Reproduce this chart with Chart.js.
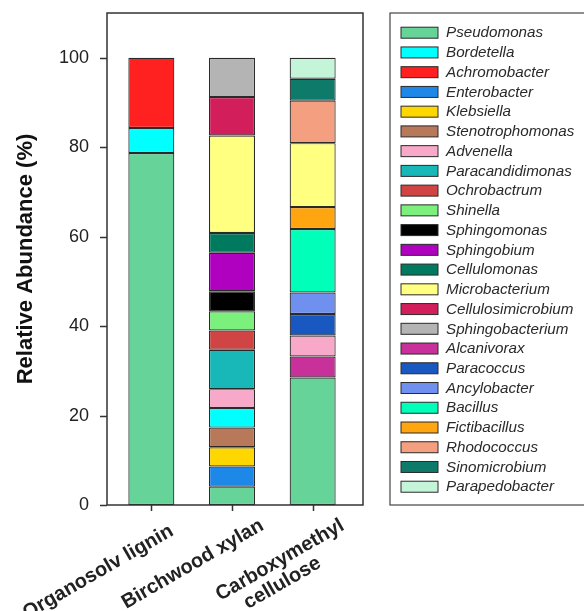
<!DOCTYPE html>
<html>
<head>
<meta charset="utf-8">
<script src="https://cdn.jsdelivr.net/npm/chart.js@4.4.1/dist/chart.umd.min.js"></script>
<style>
  html, body { margin: 0; padding: 0; background: #fff; }
  canvas { display: block; }
</style>
</head>
<body>
<canvas id="chart" width="584" height="611"></canvas>
<script>
// substrates on the x axis (trailing spaces only nudge the rotated text)
const categories = ['Organosolv lignin  ', 'Birchwood xylan', ['Carboxymethyl', 'cellulose       ']];

// genera, in legend order, with their fill colours
const genera = [
  'Pseudomonas', 'Bordetella', 'Achromobacter', 'Enterobacter', 'Klebsiella',
  'Stenotrophomonas', 'Advenella', 'Paracandidimonas', 'Ochrobactrum', 'Shinella',
  'Sphingomonas', 'Sphingobium', 'Cellulomonas', 'Microbacterium', 'Cellulosimicrobium',
  'Sphingobacterium', 'Alcanivorax', 'Paracoccus', 'Ancylobacter', 'Bacillus',
  'Fictibacillus', 'Rhodococcus', 'Sinomicrobium', 'Parapedobacter'
];
const genusColors = [
  '#66d399', '#00ffff', '#ff2020', '#1e88e8', '#ffd700',
  '#b8785a', '#f8a8c8', '#18b8b8', '#d04444', '#7cf07c',
  '#000000', '#b000c0', '#007a5e', '#ffff80', '#d21e5a',
  '#b4b4b4', '#c8309a', '#1858c0', '#7090f0', '#00ffb8',
  '#ffa510', '#f4a080', '#0e7a6a', '#c4f5d8'
];

// relative abundance (%) per substrate, listed bottom -> top of the bar
const ligninTaxa = ['Pseudomonas', 'Bordetella', 'Achromobacter'];
const ligninValues = [78.7, 5.6, 15.7];

const xylanTaxa = ['Pseudomonas', 'Enterobacter', 'Klebsiella', 'Stenotrophomonas', 'Bordetella',
  'Advenella', 'Paracandidimonas', 'Ochrobactrum', 'Shinella', 'Sphingomonas',
  'Sphingobium', 'Cellulomonas', 'Microbacterium', 'Cellulosimicrobium', 'Sphingobacterium'];
const xylanValues = [4.1, 4.5, 4.3, 4.4, 4.4, 4.2, 8.8, 4.3, 4.3, 4.5, 8.6, 4.4, 21.8, 8.6, 8.8];

const cmcTaxa = ['Pseudomonas', 'Alcanivorax', 'Advenella', 'Paracoccus', 'Ancylobacter',
  'Bacillus', 'Fictibacillus', 'Microbacterium', 'Rhodococcus', 'Sinomicrobium', 'Parapedobacter'];
const cmcValues = [28.5, 4.7, 4.7, 4.8, 4.8, 14.2, 4.9, 14.3, 9.5, 4.9, 4.7];

const yTicks = [0, 20, 40, 60, 80, 100];

const FONT = 'Arial, "Liberation Sans", sans-serif';

// each bar has its own stacking order, so the segments are floating bars [from, to]
const bars = [[ligninTaxa, ligninValues], [xylanTaxa, xylanValues], [cmcTaxa, cmcValues]];

const datasets = genera.map((g, k) => ({
  label: g,
  backgroundColor: genusColors[k],
  borderColor: '#2a2a2a',
  borderWidth: 1.2,
  borderSkipped: false,
  grouped: false,
  barPercentage: 0.57,
  categoryPercentage: 1,
  data: bars.map(([taxa, vals]) => {
    const j = taxa.indexOf(g);
    if (j < 0) return null;
    const lo = vals.slice(0, j).reduce((a, b) => a + b, 0);
    return [lo, lo + vals[j]];
  })
}));

// axis frame and tick marks
const framePlugin = {
  id: 'frame',
  afterDraw(chart) {
    const {ctx, chartArea: a, scales} = chart;
    const left = a.left - 4, right = a.right + 10;
    ctx.save();
    ctx.strokeStyle = '#333';
    ctx.lineWidth = 1.5;
    ctx.strokeRect(left, a.top, right - left, a.bottom - a.top);
    ctx.beginPath();
    yTicks.forEach(v => {
      const y = Math.round(scales.y.getPixelForValue(v)) + 0.5;
      ctx.moveTo(left - 7, y);
      ctx.lineTo(left, y);
    });
    categories.forEach((c, i) => {
      const x = Math.round(scales.x.getPixelForValue(i)) + 0.5;
      ctx.moveTo(x, a.bottom);
      ctx.lineTo(x, a.bottom + 6);
    });
    ctx.stroke();
    ctx.restore();
  }
};

// boxed legend on the right
const legendPlugin = {
  id: 'boxLegend',
  afterDraw(chart) {
    const {ctx, chartArea: a} = chart;
    const boxLeft = 390, boxTop = a.top, boxBottom = a.bottom;
    const firstRow = 32.7, rowStep = 19.74;
    ctx.save();
    ctx.strokeStyle = '#444';
    ctx.lineWidth = 1.2;
    ctx.strokeRect(boxLeft, boxTop, 210, boxBottom - boxTop);
    ctx.font = 'italic 15.2px ' + FONT;
    ctx.textBaseline = 'middle';
    ctx.textAlign = 'left';
    chart.data.datasets.forEach((ds, i) => {
      const y = firstRow + i * rowStep;
      ctx.fillStyle = ds.backgroundColor;
      ctx.fillRect(401, y - 5.5, 37, 11);
      ctx.strokeStyle = '#2a2a2a';
      ctx.lineWidth = 1;
      ctx.strokeRect(401, y - 5.5, 37, 11);
      ctx.fillStyle = '#2a2a2a';
      ctx.fillText(ds.label, 446, y + 0.5);
    });
    ctx.restore();
  }
};

new Chart(document.getElementById('chart'), {
  type: 'bar',
  data: { labels: categories, datasets: datasets },
  options: {
    responsive: false,
    animation: false,
    layout: { padding: { top: 13, right: 231, left: 0, bottom: 0 } },
    plugins: {
      legend: { display: false },
      tooltip: { enabled: false }
    },
    scales: {
      x: {
        offset: true,
        grid: { display: false, drawTicks: false },
        border: { display: false },
        ticks: {
          autoSkip: false,
          minRotation: 30,
          maxRotation: 30,
          padding: 10,
          labelOffset: 30,
          color: '#222',
          font: { family: FONT, size: 20, weight: 'bold', lineHeight: 1.05 }
        },
        afterFit(s) { s.height = 106; s.paddingLeft = 0; s.paddingRight = 0; }
      },
      y: {
        min: 0,
        max: 110,
        grid: { display: false, drawTicks: false },
        border: { display: false },
        afterBuildTicks(s) { s.ticks = yTicks.map(v => ({ value: v })); },
        ticks: {
          padding: 22,
          color: '#222',
          font: { family: FONT, size: 18 }
        },
        title: {
          display: true,
          text: 'Relative Abundance (%)',
          color: '#111',
          padding: { top: 13, bottom: 0 },
          font: { family: FONT, size: 22, weight: 'bold' }
        },
        afterFit(s) { s.width = 111; s.paddingTop = 0; s.paddingBottom = 0; }
      }
    }
  },
  plugins: [framePlugin, legendPlugin]
});
</script>
</body>
</html>
